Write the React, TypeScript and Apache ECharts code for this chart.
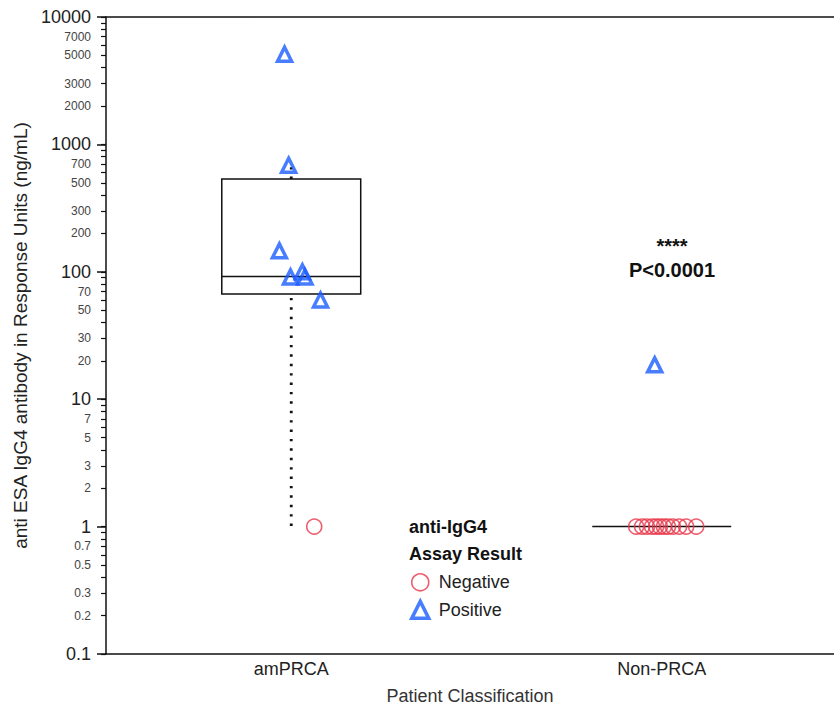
import React, { useEffect, useRef } from "react";
import * as echarts from "echarts";

const categories = ["amPRCA", "Non-PRCA"];
const categoryX = [1, 2];

// [x (jittered), value]
const negativePoints: [number, number][] = [
  [1.062, 1],
  [1.931, 1], [1.947, 1], [1.96, 1], [1.974, 1], [1.985, 1], [1.995, 1],
  [2.006, 1], [2.017, 1], [2.03, 1], [2.047, 1], [2.066, 1], [2.093, 1],
];
const positivePoints: [number, number][] = [
  [0.982, 5100], [0.993, 685], [0.968, 146], [0.998, 91],
  [1.03, 100], [1.037, 91], [1.079, 60], [1.981, 18.6],
];
// [x, lower whisker, Q1, median, Q3, upper whisker]
const boxStats: number[][] = [
  [1, 1, 67, 92, 535, 685],
  [2, 1, 1, 1, 1, 1],
];
const boxWidth = 0.375;

const yMajorLabels = [0.1, 1, 10, 100, 1000, 10000];
const yMinorLabels = [
  0.2, 0.3, 0.5, 0.7, 2, 3, 5, 7, 20, 30, 50, 70,
  200, 300, 500, 700, 2000, 3000, 5000, 7000,
];
const yMinorTicks = [
  0.1, 0.2, 0.3, 0.4, 0.5, 0.6, 0.7, 0.8, 0.9,
  1, 2, 3, 4, 5, 6, 7, 8, 9,
  10, 20, 30, 40, 50, 60, 70, 80, 90,
  100, 200, 300, 400, 500, 600, 700, 800, 900,
  1000, 2000, 3000, 4000, 5000, 6000, 7000, 8000, 9000, 10000,
];

const RED = "#E8374A";
const BLUE = "#1A5CFF";
const FONT = "'Liberation Sans', Arial, sans-serif";

export default function App() {
  const ref = useRef<HTMLDivElement>(null);
  useEffect(() => {
    if (!ref.current) return;
    const chart = echarts.init(ref.current, undefined, { renderer: "svg" });
    const allY = [...yMajorLabels, ...yMinorLabels].sort((a, b) => a - b);
    chart.setOption({
      animation: false,
      textStyle: { fontFamily: FONT },
      grid: {
        left: 106,
        right: 0,
        top: 17,
        bottom: 52,
        containLabel: false,
        outerBoundsMode: "none",
      },
      xAxis: [
        {
          type: "value",
          min: 0.5,
          max: 2.465,
          name: "Patient Classification",
          nameLocation: "middle",
          nameGap: 33,
          nameTextStyle: { fontSize: 18, color: "#333", fontFamily: FONT },
          axisLine: { show: true, lineStyle: { color: "#111", width: 1.5 } },
          axisTick: { show: false },
          splitLine: { show: false },
          axisLabel: {
            customValues: categoryX,
            formatter: (v: number) => categories[Math.round(v) - 1] ?? "",
            fontSize: 18,
            color: "#222",
            margin: 6,
            fontFamily: FONT,
          },
        },
        {
          type: "value",
          position: "top",
          min: 0.5,
          max: 2.465,
          axisLine: { show: true, lineStyle: { color: "#111", width: 1.5 } },
          axisTick: { show: false },
          axisLabel: { show: false },
          splitLine: { show: false },
        },
      ],
      yAxis: [
        {
          type: "log",
          logBase: 10,
          min: 0.1,
          max: 10000,
          name: "anti ESA IgG4 antibody in Response Units (ng/mL)",
          nameLocation: "middle",
          nameGap: 76,
          nameTextStyle: { fontSize: 19, color: "#222", fontFamily: FONT },
          axisLine: { show: true, lineStyle: { color: "#111", width: 1.5 } },
          axisTick: {
            show: true,
            customValues: yMinorTicks,
            length: 5,
            lineStyle: { color: "#111", width: 1.2 },
          },
          splitLine: { show: false },
          axisLabel: {
            customValues: allY,
            margin: 15,
            fontFamily: FONT,
            formatter: (v: number) => {
              const isMajor = yMajorLabels.some((m) => Math.abs(m - v) / m < 1e-6);
              const match = allY.find((m) => Math.abs(m - v) / m < 1e-6);
              const txt = String(match ?? v);
              return isMajor ? `{big|${txt}}` : `{small|${txt}}`;
            },
            rich: {
              big: { fontSize: 18, color: "#222", fontFamily: FONT },
              small: { fontSize: 12, color: "#444", fontFamily: FONT },
            },
          },
        },
        {
          type: "log",
          logBase: 10,
          min: 0.1,
          max: 10000,
          position: "left",
          axisLine: { show: false },
          axisTick: {
            show: true,
            customValues: yMajorLabels,
            length: 9,
            lineStyle: { color: "#111", width: 1.5 },
          },
          axisLabel: { show: false },
          splitLine: { show: false },
        },
      ],
      legend: {
        orient: "vertical",
        left: 410,
        top: 573,
        padding: 0,
        itemWidth: 17,
        itemHeight: 17,
        itemGap: 8,
        textStyle: { fontSize: 18, color: "#222", fontFamily: FONT, padding: [0, 0, 0, 5] },
        data: [
          {
            name: "Negative",
            icon: "circle",
            itemStyle: { color: "rgba(0,0,0,0)", borderColor: RED, borderWidth: 1.6 },
          },
          {
            name: "Positive",
            icon: "triangle",
            itemStyle: { color: "rgba(0,0,0,0)", borderColor: BLUE, borderWidth: 3.5 },
          },
        ],
      },
      graphic: [
        {
          type: "text",
          x: 409,
          y: 527,
          style: {
            text: "anti-IgG4",
            fontSize: 18,
            fontWeight: "bold",
            fontFamily: FONT,
            fill: "#111",
            align: "left",
            verticalAlign: "middle",
          },
        },
        {
          type: "text",
          x: 409,
          y: 554,
          style: {
            text: "Assay Result",
            fontSize: 18,
            fontWeight: "bold",
            fontFamily: FONT,
            fill: "#111",
            align: "left",
            verticalAlign: "middle",
          },
        },
        {
          type: "text",
          x: 672,
          y: 246,
          style: {
            text: "****",
            fontSize: 20,
            fontWeight: "bold",
            fontFamily: FONT,
            fill: "#111",
            align: "center",
            verticalAlign: "middle",
          },
        },
        {
          type: "text",
          x: 672,
          y: 270,
          style: {
            text: "P<0.0001",
            fontSize: 20,
            fontWeight: "bold",
            fontFamily: FONT,
            fill: "#111",
            align: "center",
            verticalAlign: "middle",
          },
        },
      ],
      series: [
        {
          type: "custom",
          name: "box",
          z: 1,
          encode: { x: 0, y: [1, 2, 3, 4, 5] },
          data: boxStats,
          renderItem: (params: any, api: any) => {
            const x = api.value(0);
            const lo = api.value(1);
            const q1 = api.value(2);
            const med = api.value(3);
            const q3 = api.value(4);
            const hi = api.value(5);
            const pL = api.coord([x - boxWidth / 2, med]);
            const pR = api.coord([x + boxWidth / 2, med]);
            const pQ1 = api.coord([x, q1]);
            const pQ3 = api.coord([x, q3]);
            const pLo = api.coord([x, lo]);
            const pHi = api.coord([x, hi]);
            const children: any[] = [];
            const stroke = { stroke: "#111", lineWidth: 1.5, fill: "none" };
            if (q3 > q1) {
              children.push({
                type: "rect",
                shape: { x: pL[0], y: pQ3[1], width: pR[0] - pL[0], height: pQ1[1] - pQ3[1] },
                style: stroke,
              });
            }
            children.push({
              type: "line",
              shape: { x1: pL[0], y1: pL[1], x2: pR[0], y2: pR[1] },
              style: stroke,
            });
            const dotted = { stroke: "#111", lineWidth: 2.8, lineDash: [2.4, 7] };
            if (lo < q1) {
              children.push({
                type: "line",
                shape: { x1: pQ1[0], y1: pQ1[1] + 4, x2: pLo[0], y2: pLo[1] },
                style: dotted,
              });
            }
            if (hi > q3) {
              children.push({
                type: "line",
                shape: { x1: pQ3[0], y1: pQ3[1], x2: pHi[0], y2: pHi[1] },
                style: dotted,
              });
            }
            return { type: "group", children };
          },
        },
        {
          type: "scatter",
          name: "Negative",
          z: 3,
          symbol: "circle",
          symbolSize: 15,
          itemStyle: { color: "rgba(0,0,0,0)", borderColor: RED, borderWidth: 1.6 },
          data: negativePoints,
        },
        {
          type: "scatter",
          name: "Positive",
          z: 4,
          symbol: "triangle",
          symbolSize: 14,
          itemStyle: { color: "rgba(0,0,0,0)", borderColor: BLUE, borderWidth: 3.5 },
          data: positivePoints,
        },
      ],
    });
    return () => chart.dispose();
  }, []);
  return (
    <div
      ref={ref}
      style={{ position: "fixed", left: 0, top: 0, width: 834, height: 706, background: "#fff" }}
    />
  );
}
